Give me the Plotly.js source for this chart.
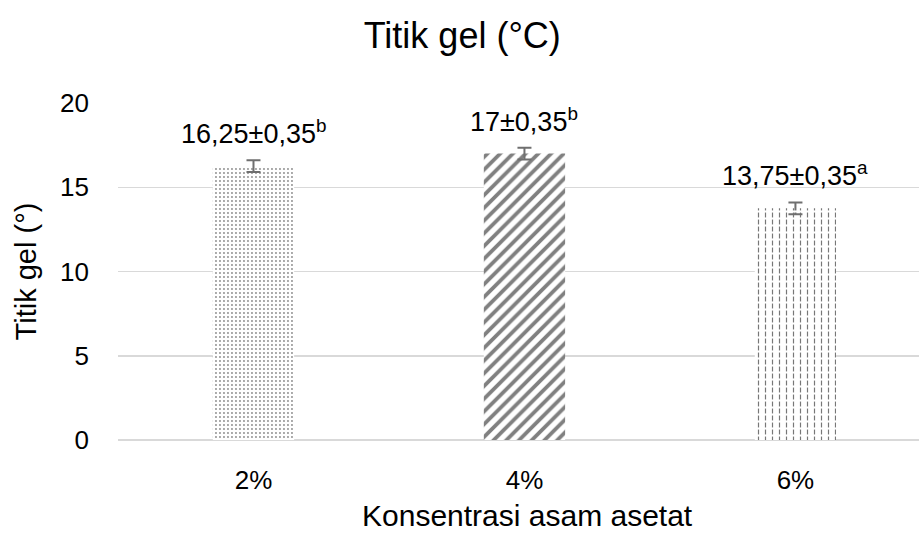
<!DOCTYPE html>
<html>
<head>
<meta charset="utf-8">
<script src="https://cdn.plot.ly/plotly-3.0.1.min.js"></script>
<style>
  html, body { margin: 0; padding: 0; background: #ffffff; }
  #chart { width: 919px; height: 544px; }
</style>
</head>
<body>
<div id="chart"></div>
<script>
// Gel point by acetic acid concentration
const categories = ['2%', '4%', '6%'];
const gelPoint = [16.25, 17, 13.75];
const gelError = [0.35, 0.35, 0.35];
const letters = ['b', 'b', 'a'];
const yTicks = [0, 5, 10, 15, 20];
const xTitle = 'Konsentrasi asam asetat';

const FONT = 'Liberation Sans, Arial, sans-serif';
const fmt = v => String(v).replace('.', ',');

const labelText = gelPoint.map((v, i) =>
  fmt(v) + '±' + fmt(gelError[i]) + '<sup>' + letters[i] + '</sup>');

const bars = {
  type: 'bar',
  x: categories,
  y: gelPoint,
  width: 0.3,
  marker: {
    color: '#ffffff',
    line: { width: 0 },
    pattern: {
      shape: ['.', '/', '|'],
      fgcolor: ['#8c8c8c', '#808080', '#777777'],
      bgcolor: '#ffffff',
      size: [4, 9, 7],
      solidity: [0.18, 0.42, 0.17],
      fillmode: 'replace'
    }
  },
  error_y: {
    type: 'data',
    array: gelError,
    visible: true,
    color: '#6f6f6f',
    thickness: 2,
    width: 7
  },
  hoverinfo: 'skip'
};

// white horizontal bands cut the vertical lines of the 6% bar into dashes
const dashCut = {
  type: 'bar',
  x: [categories[2]],
  y: [gelPoint[2]],
  width: 0.3,
  marker: {
    color: 'rgba(0,0,0,0)',
    line: { width: 0 },
    pattern: {
      shape: '-',
      fgcolor: '#ffffff',
      fgopacity: 1,
      bgcolor: 'rgba(0,0,0,0)',
      size: 7,
      solidity: 0.3,
      fillmode: 'overlay'
    }
  },
  hoverinfo: 'skip'
};

const annotations = categories.map((c, i) => ({
  x: c,
  y: gelPoint[i] + gelError[i],
  xref: 'x',
  yref: 'y',
  text: labelText[i],
  showarrow: false,
  xanchor: 'center',
  yanchor: 'middle',
  yshift: 28,
  font: { family: FONT, size: 27, color: '#000000' }
}));

// x-axis title, set slightly right of the plot centre
annotations.push({
  text: xTitle,
  xref: 'paper',
  yref: 'paper',
  x: 0.511,
  y: -0.225,
  xanchor: 'center',
  yanchor: 'middle',
  showarrow: false,
  font: { family: FONT, size: 30, color: '#000000' }
});

const layout = {
  width: 919,
  height: 544,
  paper_bgcolor: '#ffffff',
  plot_bgcolor: '#ffffff',
  margin: { l: 118, r: 0, t: 103, b: 104 },
  showlegend: false,
  barmode: 'overlay',
  font: { family: FONT, color: '#000000' },
  title: {
    text: 'Titik gel (°C)',
    x: 0.503,
    xref: 'container',
    xanchor: 'center',
    y: 1 - 35 / 544,
    yref: 'container',
    yanchor: 'middle',
    font: { family: FONT, size: 36, color: '#000000' }
  },
  xaxis: {
    type: 'category',
    range: [-0.5, 2.456],
    showgrid: false,
    zeroline: false,
    showline: false,
    ticks: '',
    ticklabelstandoff: 22,
    tickfont: { family: FONT, size: 26, color: '#000000' },
    automargin: false,
    fixedrange: true
  },
  yaxis: {
    range: [0, 20],
    tickvals: yTicks,
    ticktext: yTicks.map(String),
    showgrid: true,
    gridcolor: '#d9d9d9',
    gridwidth: 1.5,
    zeroline: true,
    zerolinecolor: '#d9d9d9',
    zerolinewidth: 1.5,
    showline: false,
    ticks: '',
    ticklabelstandoff: 28,
    tickfont: { family: FONT, size: 26, color: '#000000' },
    title: {
      text: 'Titik gel (°)',
      standoff: 14,
      font: { family: FONT, size: 29, color: '#000000' }
    },
    automargin: false,
    fixedrange: true
  },
  annotations: annotations
};

Plotly.newPlot('chart', [bars, dashCut], layout, { staticPlot: true, displayModeBar: false });
</script>
</body>
</html>
